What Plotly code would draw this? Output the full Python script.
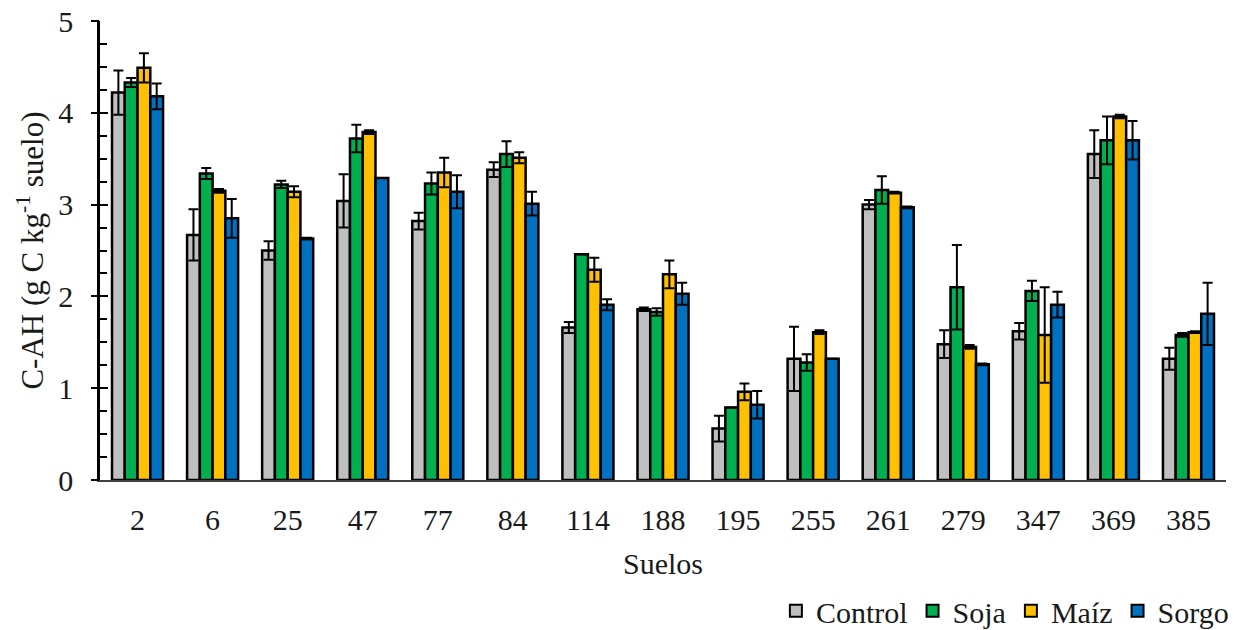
import plotly.graph_objects as go

suelos = ["2", "6", "25", "47", "77", "84", "114", "188", "195", "255", "261", "279", "347", "369", "385"]

control = [4.22, 2.67, 2.50, 3.04, 2.82, 3.38, 1.66, 1.86, 0.56, 1.32, 3.00, 1.48, 1.62, 3.55, 1.32]
control_err = [0.24, 0.28, 0.10, 0.29, 0.09, 0.08, 0.06, 0.02, 0.14, 0.35, 0.05, 0.15, 0.09, 0.26, 0.12]

soja = [4.33, 3.34, 3.22, 3.72, 3.23, 3.55, 2.46, 1.83, 0.79, 1.28, 3.16, 2.10, 2.06, 3.70, 1.58]
soja_err = [0.05, 0.06, 0.04, 0.15, 0.12, 0.14, 0.0, 0.04, 0.0, 0.09, 0.15, 0.46, 0.11, 0.26, 0.02]

maiz = [4.49, 3.15, 3.14, 3.79, 3.35, 3.51, 2.29, 2.24, 0.96, 1.61, 3.13, 1.45, 1.58, 3.96, 1.61]
maiz_err = [0.16, 0.02, 0.06, 0.02, 0.16, 0.06, 0.13, 0.15, 0.09, 0.02, 0.01, 0.02, 0.52, 0.02, 0.01]

sorgo = [4.18, 2.85, 2.63, 3.29, 3.14, 3.01, 1.91, 2.03, 0.82, 1.32, 2.97, 1.26, 1.91, 3.70, 1.81]
sorgo_err = [0.14, 0.21, 0.01, 0.0, 0.18, 0.13, 0.06, 0.12, 0.15, 0.0, 0.01, 0.01, 0.14, 0.21, 0.34]

series = [
    ("Control", control, control_err, "#BFBFBF"),
    ("Soja", soja, soja_err, "#00B050"),
    ("Maíz", maiz, maiz_err, "#FFC000"),
    ("Sorgo", sorgo, sorgo_err, "#0070C0"),
]

FONT = "'Times New Roman', 'Liberation Serif', serif"
FS = 30
TXT = "#1a1a1a"

fig = go.Figure()
for name, vals, errs, color in series:
    fig.add_trace(go.Bar(
        x=suelos, y=vals, name=name,
        marker=dict(color=color, line=dict(color="black", width=2.5)),
        error_y=dict(type="data", array=errs, visible=True, color="black",
                     thickness=2, width=5),
    ))

# invisible trace on overlay axis to draw outside ticks (cross tick effect)
fig.add_trace(go.Scatter(x=[suelos[0]], y=[0], yaxis="y2", mode="markers",
                         marker=dict(opacity=0), showlegend=False, hoverinfo="skip"))

fig.update_layout(
    width=1234, height=630,
    margin=dict(l=100, r=8, t=21, b=150, autoexpand=False),
    paper_bgcolor="white", plot_bgcolor="white",
    barmode="group", bargap=0.32, bargroupgap=0.0,
    font=dict(family=FONT, size=FS, color=TXT),
    xaxis=dict(
        type="category", range=[-0.5, 14.5],
        showline=True, linecolor="#404040", linewidth=2,
        ticks="", showgrid=False,
        tickfont=dict(family=FONT, size=FS, color=TXT),
        ticklabelstandoff=12,
        title=dict(text="Suelos", font=dict(family=FONT, size=FS, color=TXT), standoff=18),
    ),
    yaxis=dict(
        range=[0, 5], dtick=1,
        showline=True, linecolor="black", linewidth=2.5,
        ticks="inside", ticklen=8, tickwidth=2, tickcolor="black",
        minor=dict(dtick=0.25, ticks="inside", ticklen=7, tickwidth=2, tickcolor="black"),
        showgrid=False, zeroline=False,
        tickfont=dict(family=FONT, size=FS, color=TXT),
        ticklabelstandoff=18,
        title=dict(text="C-AH (g C kg<sup>-1</sup> suelo)",
                   font=dict(family=FONT, size=31, color=TXT), standoff=6),
    ),
    yaxis2=dict(
        range=[0, 5], dtick=1, overlaying="y", side="left",
        ticks="outside", ticklen=8, tickwidth=2, tickcolor="black",
        showticklabels=False, showgrid=False, zeroline=False, showline=False,
    ),
    legend=dict(
        orientation="h", x=1.007, xanchor="right", y=-0.285, yanchor="middle",
        font=dict(family=FONT, size=FS, color=TXT), itemsizing="constant",
        itemwidth=30, traceorder="normal", bgcolor="rgba(0,0,0,0)",
    ),
)

fig.write_html("out.html")
